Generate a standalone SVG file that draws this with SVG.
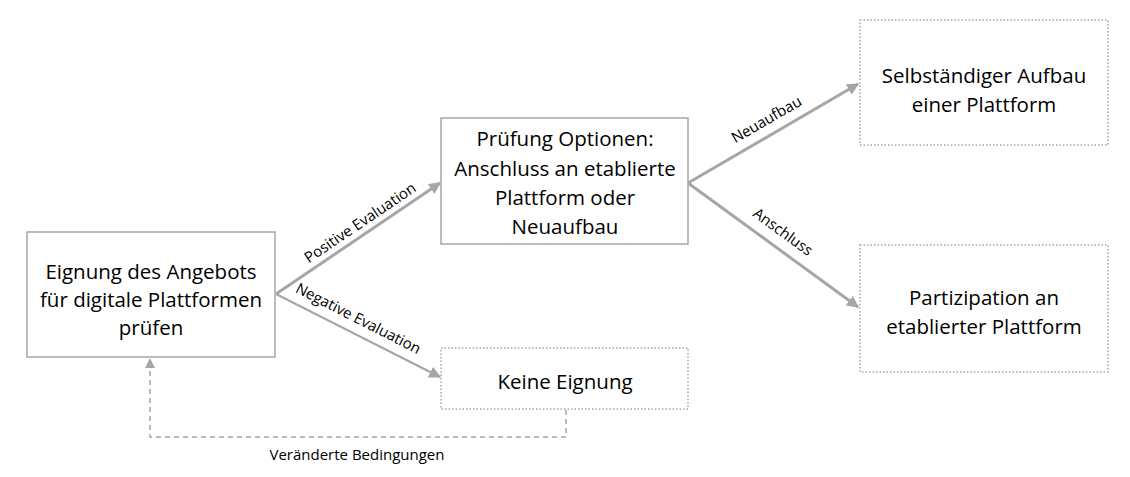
<svg xmlns="http://www.w3.org/2000/svg" width="1130" height="477" viewBox="0 0 1130 477">
<style>
.box{fill:#fff;stroke:#a6a6a6;stroke-width:1.5}
.dot{fill:#fff;stroke:#a6a6a6;stroke-width:1.5;stroke-dasharray:1.5 2}
.t{font-family:"Open Sans","Liberation Sans",sans-serif;font-size:20.5px;fill:#000;text-anchor:middle}
.l{font-family:"Open Sans","Liberation Sans",sans-serif;font-size:15px;fill:#000;text-anchor:middle}
.c{stroke:#a6a6a6;fill:none}
</style>
<defs>
<marker id="ah" viewBox="0 0 10 10" refX="9" refY="5" markerWidth="4" markerHeight="4" orient="auto" markerUnits="strokeWidth"><path d="M0,0L10,5L0,10z" fill="#a6a6a6"/></marker>
<marker id="ah2" viewBox="0 0 10 10" refX="9" refY="5" markerWidth="6" markerHeight="6" orient="auto" markerUnits="strokeWidth"><path d="M0,0L10,5L0,10z" fill="#a6a6a6"/></marker>
</defs>
<g id="connectors">
<line class="c" x1="276" y1="294" x2="440" y2="183" stroke-width="3" marker-end="url(#ah)"/>
<line class="c" x1="276" y1="294" x2="440" y2="377" stroke-width="2" marker-end="url(#ah2)"/>
<line class="c" x1="688" y1="183" x2="858" y2="84" stroke-width="3" marker-end="url(#ah)"/>
<line class="c" x1="688" y1="183" x2="858" y2="307" stroke-width="3" marker-end="url(#ah)"/>
<path class="c" d="M566,410V437H150V362" stroke-width="1.5" stroke-dasharray="5 4"/>
<path d="M145,368L150,358L155,368z" fill="#a6a6a6"/>
<text class="l" transform="translate(363,227) rotate(-34)">Positive Evaluation</text>
<text class="l" transform="translate(356,323) rotate(27)">Negative Evaluation</text>
<text class="l" transform="translate(769,124) rotate(-30)">Neuaufbau</text>
<text class="l" transform="translate(780,236) rotate(36)">Anschluss</text>
<text class="l" x="357" y="460">Veränderte Bedingungen</text>
</g>
<g id="n1"><rect class="box" x="27" y="232" width="248" height="125"/>
<text class="t" x="151" y="279">Eignung des Angebots</text><text class="t" x="151" y="307">für digitale Plattformen</text><text class="t" x="151" y="335">prüfen</text></g>
<g id="n2"><rect class="box" x="441" y="118" width="247" height="126"/>
<text class="t" x="565" y="146">Prüfung Optionen:</text><text class="t" x="565" y="176">Anschluss an etablierte</text><text class="t" x="565" y="205">Plattform oder</text><text class="t" x="565" y="234">Neuaufbau</text></g>
<g id="n3"><rect class="dot" x="860" y="20" width="248" height="125"/>
<text class="t" x="984" y="83">Selbständiger Aufbau</text><text class="t" x="984" y="112">einer Plattform</text></g>
<g id="n4"><rect class="dot" x="860" y="245" width="248" height="127"/>
<text class="t" x="984" y="305">Partizipation an</text><text class="t" x="984" y="334">etablierter Plattform</text></g>
<g id="n5"><rect class="dot" x="441" y="348" width="247" height="61"/>
<text class="t" x="565" y="389">Keine Eignung</text></g>
</svg>
